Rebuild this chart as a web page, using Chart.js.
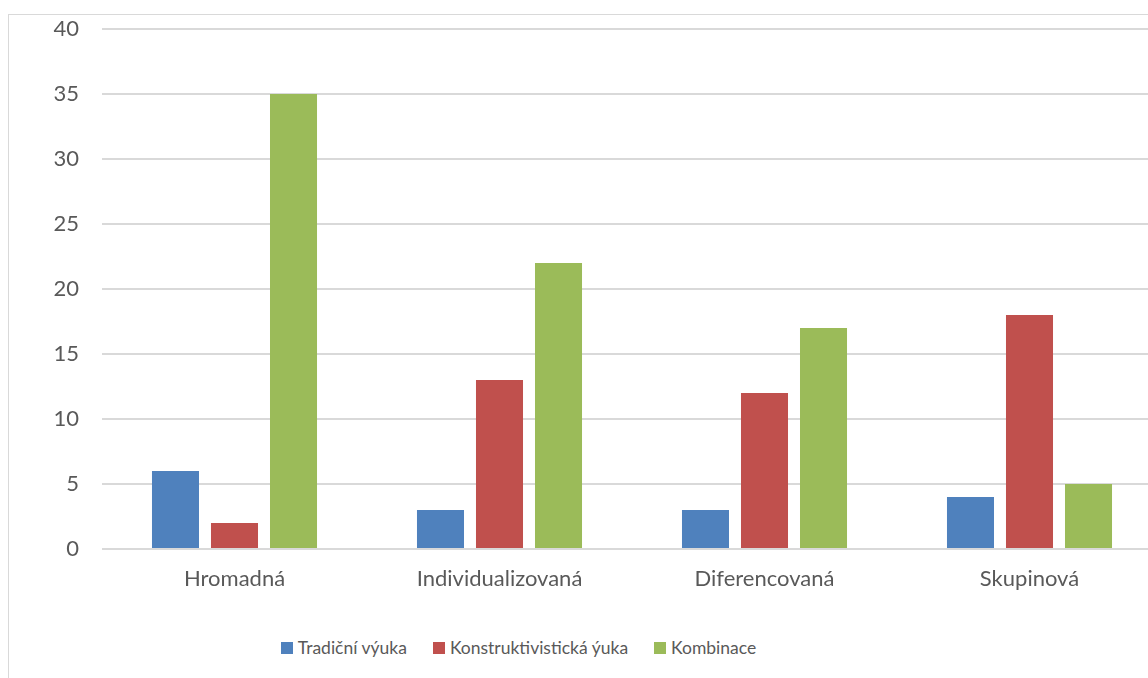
<!DOCTYPE html>
<html>
<head>
<meta charset="utf-8">
<script src="https://cdn.jsdelivr.net/npm/chart.js@4/dist/chart.umd.min.js"></script>
<style>
  html, body { margin: 0; padding: 0; background: #fff; overflow: hidden; width: 1148px; height: 678px; }
  #frame { position: absolute; left: 8px; top: 14px; width: 1400px; height: 900px;
           border-left: 1px solid #d9d9d9; border-top: 1px solid #d9d9d9; }
  #wrap { position: absolute; left: 0; top: 0; width: 1180px; height: 620px; }
  #legend { position: absolute; left: 0; top: 635px; width: 1037px; display: flex; justify-content: center;
            font-family: Lato, sans-serif; font-size: 17.5px; color: #595959; line-height: 26px; }
  .item { display: flex; align-items: center; margin: 0 13px; }
  .box { width: 12px; height: 12px; margin-right: 5px; }
</style>
</head>
<body>
<div id="frame"></div>
<div id="wrap"><canvas id="c" width="1180" height="620"></canvas></div>
<div id="legend"></div>
<script>
// Teaching forms and counts per approach
const categories = ['Hromadná', 'Individualizovaná', 'Diferencovaná', 'Skupinová'];
const seriesNames = ['Tradiční výuka', 'Konstruktivistická ýuka', 'Kombinace'];
const tradicni = [6, 3, 3, 4];
const konstruktivisticka = [2, 13, 12, 18];
const kombinace = [35, 22, 17, 5];
const yTicks = [0, 5, 10, 15, 20, 25, 30, 35, 40];
const colors = ['#4f81bd', '#c0504d', '#9bbb59'];

const values = [tradicni, konstruktivisticka, kombinace];
const datasets = seriesNames.map((name, i) => ({
  label: name,
  data: values[i],
  backgroundColor: colors[i],
  borderWidth: 0,
  categoryPercentage: 0.668,
  barPercentage: 0.797
}));

const font = { family: 'Lato, sans-serif', size: 22 };

new Chart(document.getElementById('c'), {
  type: 'bar',
  data: { labels: categories, datasets },
  options: {
    responsive: false,
    animation: false,
    layout: { padding: { left: 0, right: 18, top: 29, bottom: 0 } },
    plugins: { legend: { display: false }, tooltip: { enabled: false } },
    scales: {
      x: {
        grid: { display: false, drawTicks: false },
        border: { display: false },
        ticks: { color: '#595959', font, padding: 17 },
        afterFit: s => { s.height = 71; }
      },
      y: {
        min: 0, max: 40,
        afterBuildTicks: s => { s.ticks = yTicks.map(v => ({ value: v })); },
        grid: { color: '#d9d9d9', lineWidth: 2, drawTicks: false },
        border: { display: false },
        ticks: { color: '#595959', font, padding: 23 },
        afterFit: s => { s.width = 102; s.paddingTop = 0; s.paddingBottom = 0; }
      }
    }
  }
});

// Legend row beneath the plot
const legend = document.getElementById('legend');
seriesNames.forEach((name, i) => {
  const item = document.createElement('div');
  item.className = 'item';
  const box = document.createElement('span');
  box.className = 'box';
  box.style.background = colors[i];
  const txt = document.createElement('span');
  txt.textContent = name;
  item.appendChild(box);
  item.appendChild(txt);
  legend.appendChild(item);
});
</script>
</body>
</html>
